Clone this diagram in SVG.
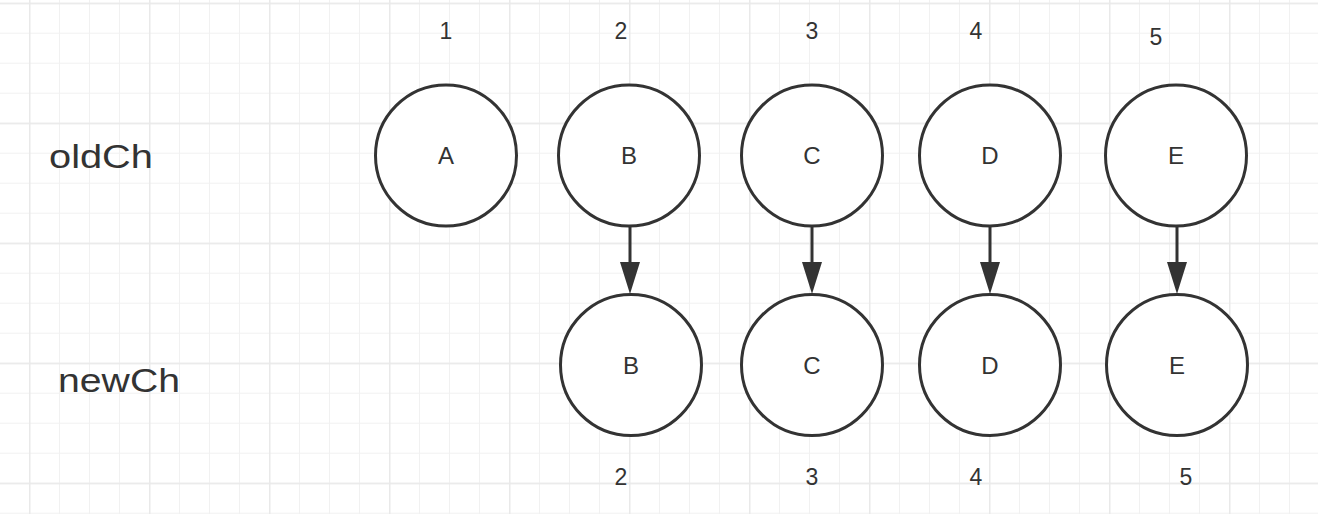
<svg xmlns="http://www.w3.org/2000/svg" width="1318" height="514" viewBox="0 0 1318 514">
<defs>
<pattern id="minor" x="29" y="2.7" width="30" height="30" patternUnits="userSpaceOnUse">
<path d="M0 0 V30 M0 0 H30" fill="none" stroke="#f1f1f1" stroke-width="2"/>
</pattern>
<pattern id="major" x="29" y="2.7" width="120" height="120" patternUnits="userSpaceOnUse">
<path d="M0 0 V120 M0 0 H120" fill="none" stroke="#e9e9e9" stroke-width="3"/>
</pattern>
<marker id="arrow" markerWidth="32" markerHeight="20" refX="0" refY="10" orient="auto" markerUnits="userSpaceOnUse" viewBox="0 0 32 20">
<path d="M0 0 L32 10 L0 20 Z" fill="#333"/>
</marker>
<style>
.node circle{fill:#fff;stroke:#333;stroke-width:3}
.nt{font-family:"Liberation Sans",Arial,Helvetica,sans-serif;font-size:24px;fill:#333;text-anchor:middle}
.num{font-family:"Liberation Sans",Arial,Helvetica,sans-serif;font-size:23px;fill:#333;text-anchor:middle}
.lbl{font-family:"Liberation Sans",Arial,Helvetica,sans-serif;font-size:33px;fill:#333}
.edge{stroke:#333;stroke-width:3;fill:none}
</style>
</defs>
<rect width="1318" height="514" fill="#fff"/>
<rect width="1318" height="514" fill="url(#minor)"/>
<rect width="1318" height="514" fill="url(#major)"/>

<g id="labels">
<text class="lbl" x="49" y="167.5" textLength="104" lengthAdjust="spacingAndGlyphs">oldCh</text>
<text class="lbl" x="58" y="391.7" textLength="122" lengthAdjust="spacingAndGlyphs">newCh</text>
<text class="num" x="446" y="39">1</text>
<text class="num" x="621" y="39">2</text>
<text class="num" x="812" y="39">3</text>
<text class="num" x="976" y="39">4</text>
<text class="num" x="1156" y="45">5</text>
<text class="num" x="621" y="485">2</text>
<text class="num" x="812" y="485">3</text>
<text class="num" x="976" y="485">4</text>
<text class="num" x="1186" y="485">5</text>
</g>

<g id="connectors">
<line class="edge" x1="630" y1="226" x2="630" y2="262" marker-end="url(#arrow)"/>
<line class="edge" x1="812" y1="226" x2="812" y2="262" marker-end="url(#arrow)"/>
<line class="edge" x1="990" y1="226" x2="990" y2="262" marker-end="url(#arrow)"/>
<line class="edge" x1="1177" y1="226" x2="1177" y2="262" marker-end="url(#arrow)"/>
</g>

<g id="oldA" class="node"><circle cx="446" cy="155.5" r="70.5"/><text class="nt" x="446" y="164">A</text></g>
<g id="oldB" class="node"><circle cx="629" cy="155.5" r="70.5"/><text class="nt" x="629" y="164">B</text></g>
<g id="oldC" class="node"><circle cx="812" cy="155.5" r="70.5"/><text class="nt" x="812" y="164">C</text></g>
<g id="oldD" class="node"><circle cx="990" cy="155.5" r="70.5"/><text class="nt" x="990" y="164">D</text></g>
<g id="oldE" class="node"><circle cx="1176" cy="155.5" r="70.5"/><text class="nt" x="1176" y="164">E</text></g>

<g id="newB" class="node"><circle cx="631" cy="365" r="70.5"/><text class="nt" x="631" y="373.5">B</text></g>
<g id="newC" class="node"><circle cx="812" cy="365" r="70.5"/><text class="nt" x="812" y="373.5">C</text></g>
<g id="newD" class="node"><circle cx="990" cy="365" r="70.5"/><text class="nt" x="990" y="373.5">D</text></g>
<g id="newE" class="node"><circle cx="1177" cy="365" r="70.5"/><text class="nt" x="1177" y="373.5">E</text></g>
</svg>
